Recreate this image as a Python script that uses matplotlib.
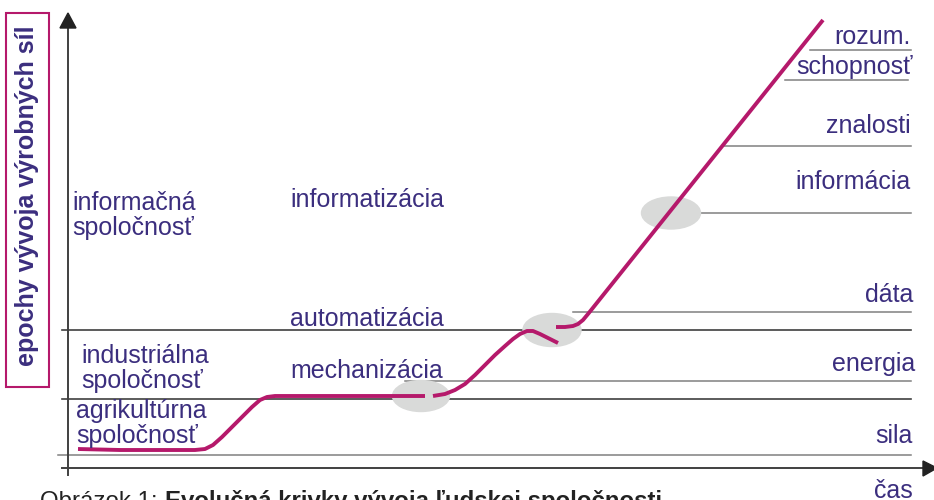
import matplotlib.pyplot as plt
from matplotlib.patches import Ellipse, Polygon, Rectangle

plt.rcParams['font.family'] = ['Liberation Sans', 'DejaVu Sans']

TEXT = '#3b2e7e'
CURVE = '#b5196b'
DARK = '#404040'
LIGHT = '#808080'

# evolution curve (x, y in picture pixels)
seg1_x = [78, 120, 160, 195, 205, 213, 222, 232, 242, 252, 260, 267, 275, 330, 380, 425]
seg1_y = [449, 450, 450, 450, 449, 445, 437, 427, 417, 407, 400, 397, 396, 396, 396, 396]
seg2_x = [433, 445, 455, 465, 475, 485, 495, 505, 513, 520, 527, 533, 540, 550, 558]
seg2_y = [396, 394, 390, 384, 375, 365, 355, 346, 339, 334, 331, 331, 334, 339, 343]
seg3_x = [556, 565, 573, 578, 583, 588, 823]
seg3_y = [327, 327, 326, 324, 320, 314, 20]

# horizontal levels: (y, x start, x end)
dark_y = [399, 330]
dark_x0 = [62, 62]
dark_x1 = [911, 911]
light_y = [455, 381, 312, 213, 146, 80, 50]
light_x0 = [58, 405, 573, 683, 722, 785, 810]
light_x1 = [911, 911, 911, 911, 911, 908, 911]

# right-hand resource labels with baselines
res_labels = ['rozum.', 'schopnosť', 'znalosti', 'informácia', 'dáta', 'energia', 'sila', 'čas']
res_base = [44, 74, 133, 189, 302, 371, 443, 498]
res_right = [911, 913, 911, 911, 913, 915, 913, 913]

# society labels (left) and processes (middle)
soc_labels = ['informačná\nspoločnosť', 'industriálna\nspoločnosť', 'agrikultúrna\nspoločnosť']
soc_x = [72, 81, 76]
soc_base = [235, 388, 443]
proc_labels = ['informatizácia', 'automatizácia', 'mechanizácia']
proc_base = [207, 326, 378]

# transition ellipses (cx, cy, w, h)
ell_cx = [421, 552, 671]
ell_cy = [396, 330, 213]
ell_w = [57, 58, 59]
ell_h = [31, 33, 32]

fig = plt.figure(figsize=(9.34, 5), dpi=100)
ax = fig.add_axes([0, 0, 1, 1])
ax.set_xlim(0, 934)
ax.set_ylim(500, 0)
ax.axis('off')

for y, x0, x1 in zip(light_y, light_x0, light_x1):
    ax.plot([x0, x1], [y, y], color=LIGHT, lw=1.1, zorder=1)
for y, x0, x1 in zip(dark_y, dark_x0, dark_x1):
    ax.plot([x0, x1], [y, y], color=DARK, lw=1.2, zorder=1)

# axes with arrows
ax.plot([68, 68], [28, 475], color=DARK, lw=1.4, zorder=2)
ax.add_patch(Polygon([[68, 13], [60, 28], [76, 28]], closed=True, color='#222222', zorder=2))
ax.plot([62, 924], [468, 468], color=DARK, lw=1.4, zorder=2)
ax.add_patch(Polygon([[937, 468], [923, 461], [923, 476]], closed=True, color='#222222', zorder=2))

for cx, cy, w, h in zip(ell_cx, ell_cy, ell_w, ell_h):
    ax.add_patch(Ellipse((cx, cy), w, h, color='#d9dad9', zorder=3))

for sx, sy in [(seg1_x, seg1_y), (seg2_x, seg2_y), (seg3_x, seg3_y)]:
    ax.plot(sx, sy, color=CURVE, lw=2.8, zorder=4, solid_capstyle='butt')

for lab, b, r in zip(res_labels, res_base, res_right):
    ax.text(r, b, lab, color=TEXT, fontsize=18, ha='right', va='baseline', zorder=5)

for lab, x, b in zip(soc_labels, soc_x, soc_base):
    ax.text(x, b, lab, color=TEXT, fontsize=18, ha='left', va='baseline',
            linespacing=1.05, zorder=5)

for lab, b in zip(proc_labels, proc_base):
    ax.text(290, b, lab, color=TEXT, fontsize=18, ha='left', va='baseline', zorder=5)

# y label in a box
ax.add_patch(Rectangle((6, 13), 43, 374, fill=False, edgecolor=CURVE, lw=1.5, zorder=5))
ax.text(27, 196, 'epochy vývoja výrobných síl', color=TEXT, fontsize=18, fontweight='bold',
        rotation=90, ha='center', va='center', zorder=6)

# caption, cut off at the bottom edge
ax.text(40, 508, 'Obrázok 1: ', color='#222222', fontsize=17.3, ha='left', va='baseline',
        clip_on=False)
ax.text(165, 508, 'Evolučná krivky vývoja ľudskej spoločnosti', color='#222222', fontsize=17.3,
        fontweight='bold', ha='left', va='baseline', clip_on=False)

fig.savefig('out.png', dpi=100)
